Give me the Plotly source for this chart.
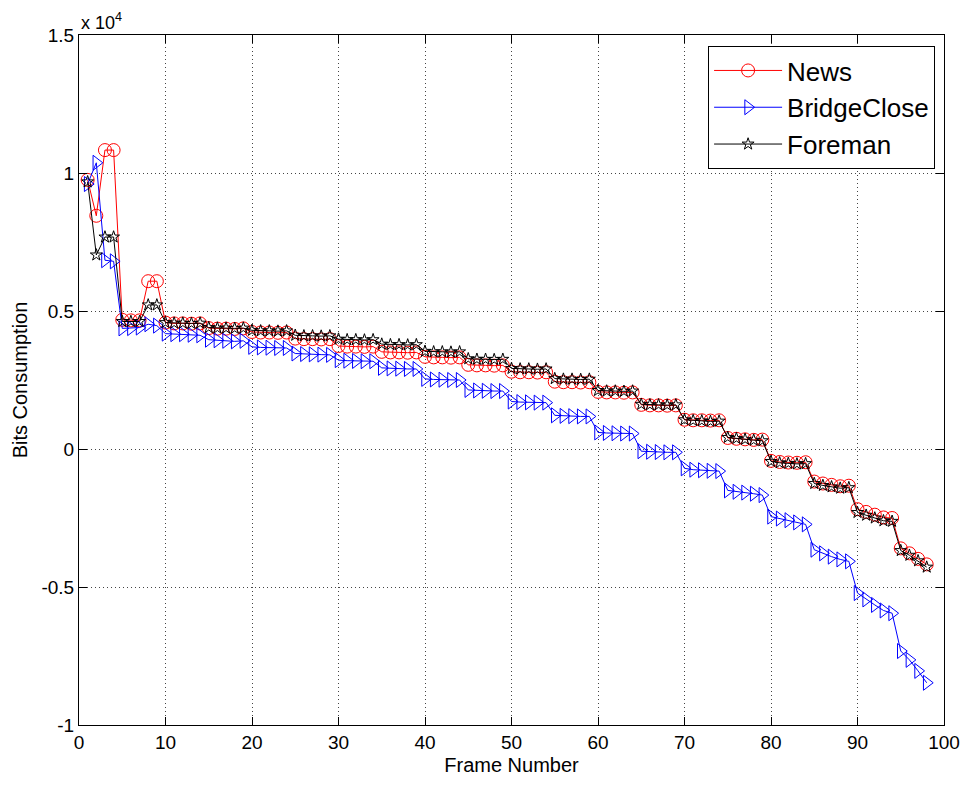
import plotly.graph_objects as go

# Frame indices (x axis)
frames = list(range(1, 99))

# Bits consumption per frame for each sequence
news = [
    9750, 8450, 10830, 10830, 4680, 4660, 4660, 6080, 6080,
    4580, 4550, 4550, 4540, 4550,
    4380, 4360, 4360, 4350, 4370,
    4240, 4220, 4220, 4210, 4220,
    4000, 3980, 3980, 3970, 3980,
    3730, 3710, 3710, 3700, 3710,
    3520, 3500, 3500, 3490, 3500,
    3340, 3320, 3320, 3310, 3320,
    3050, 3030, 3030, 3020, 3030,
    2800, 2780, 2780, 2770, 2780,
    2440, 2420, 2420, 2410, 2420,
    2070, 2050, 2050, 2040, 2050,
    1600, 1580, 1580, 1570, 1580,
    1060, 1040, 1040, 1030, 1040,
    400, 370, 350, 330, 340,
    -430, -470, -490, -500, -480,
    -1180, -1250, -1300, -1350, -1330,
    -2180, -2280, -2380, -2480, -2500,
    -3600, -3780, -3980, -4180,
]

bridge_close = [
    9600, 10370, 6840, 6800, 4370, 4380, 4400, 4520, 4470,
    4180, 4160, 4160, 4140, 4120,
    3960, 3940, 3920, 3900, 3920,
    3700, 3680, 3670, 3660, 3660,
    3460, 3440, 3430, 3420, 3410,
    3220, 3200, 3190, 3180, 3180,
    2940, 2920, 2910, 2900, 2900,
    2540, 2520, 2510, 2500, 2500,
    2140, 2120, 2110, 2100, 2100,
    1720, 1700, 1690, 1680, 1680,
    1220, 1200, 1190, 1180, 1180,
    600, 580, 570, 560, 560,
    -80, -100, -110, -120, -120,
    -700, -750, -770, -790, -800,
    -1500, -1550, -1580, -1620, -1670,
    -2450, -2520, -2580, -2660, -2730,
    -3650, -3780, -3900, -4000, -4070,
    -5220, -5450, -5650, -5850, -5950,
    -7320, -7640, -8040, -8470,
]

foreman = [
    9680, 7030, 7680, 7680, 4620, 4620, 4620, 5220, 5220,
    4580, 4560, 4560, 4550, 4560,
    4400, 4380, 4380, 4370, 4380,
    4300, 4280, 4280, 4270, 4280,
    4120, 4100, 4100, 4090, 4100,
    3980, 3960, 3960, 3950, 3960,
    3800, 3780, 3780, 3770, 3780,
    3540, 3520, 3520, 3510, 3520,
    3270, 3250, 3250, 3240, 3250,
    2920, 2900, 2900, 2890, 2900,
    2550, 2530, 2530, 2520, 2530,
    2120, 2100, 2100, 2090, 2100,
    1620, 1600, 1600, 1590, 1600,
    1060, 1030, 1020, 1000, 1010,
    420, 380, 350, 320, 300,
    -450, -500, -520, -540, -530,
    -1250, -1320, -1370, -1420, -1400,
    -2300, -2400, -2500, -2600, -2620,
    -3680, -3850, -4050, -4280,
]

x_ticks = [0, 10, 20, 30, 40, 50, 60, 70, 80, 90, 100]
y_ticks = [-10000, -5000, 0, 5000, 10000, 15000]
y_tick_labels = ["-1", "-0.5", "0", "0.5", "1", "1.5"]

series = [
    ("News", news, "#ff0000", "circle-open", 13),
    ("BridgeClose", bridge_close, "#0000ff", "triangle-right-open", 13),
    ("Foreman", foreman, "#000000", "star-open", 9),
]

fig = go.Figure()
for name, vals, color, symbol, size in series:
    fig.add_trace(go.Scatter(
        x=frames, y=vals, name=name, mode="lines+markers",
        line=dict(color=color, width=1),
        marker=dict(symbol=symbol, size=size, color=color,
                    line=dict(color=color, width=1)),
    ))

axis_common = dict(
    showline=True, linecolor="black", linewidth=1, mirror="ticks",
    ticks="inside", ticklen=8, tickcolor="black",
    showgrid=True, gridcolor="#444444", gridwidth=1, griddash="1px,3px",
    zeroline=False, tickfont=dict(size=19, color="black"),
)

fig.update_layout(
    width=972, height=785,
    margin=dict(l=79, r=22, t=35, b=59),
    plot_bgcolor="white", paper_bgcolor="white",
    font=dict(family="Liberation Sans, Arial, sans-serif", color="black"),
    xaxis=dict(range=[0, 100], tickvals=x_ticks,
               title=dict(text="Frame Number", font=dict(size=20), standoff=6),
               **axis_common),
    yaxis=dict(range=[-10000, 15000], tickvals=y_ticks, ticktext=y_tick_labels,
               title=dict(text="Bits Consumption", font=dict(size=20), standoff=8),
               **axis_common),
    legend=dict(x=0.9897, y=0.984, xanchor="right", yanchor="top",
                bordercolor="black", borderwidth=1, bgcolor="white",
                font=dict(size=26, color="black"), itemwidth=68,
                tracegroupgap=0),
    annotations=[dict(
        text="x 10<sup>4</sup>", xref="paper", yref="paper",
        x=0, y=1.0, xanchor="left", yanchor="bottom", showarrow=False,
        font=dict(size=18, color="black"),
    )],
    showlegend=True,
)

fig.write_html("out.html")
